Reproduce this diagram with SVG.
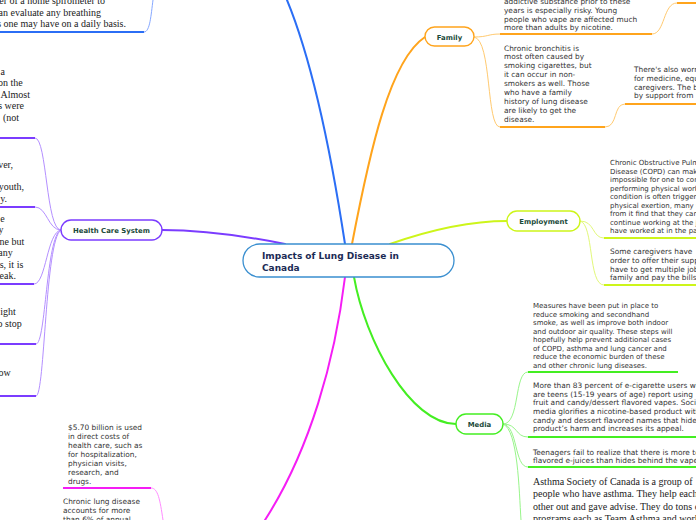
<svg xmlns="http://www.w3.org/2000/svg" width="696" height="520" viewBox="0 0 696 520">
<style>
.s{font-family:"DejaVu Sans",Verdana,sans-serif;font-size:7.4px;fill:#333}
.s7{font-size:7px}
.r{font-family:"Liberation Serif","Times New Roman",serif;font-size:10px;fill:#222}
.re{text-anchor:end}
.lbl{font-family:"DejaVu Sans",Verdana,sans-serif;font-size:6.9px;font-weight:bold;fill:#1a4a3a;text-anchor:middle}
.main{fill:none;stroke-width:2;stroke-linecap:round}
.thin{fill:none;stroke-width:1}
.ul{fill:none;stroke-width:2}
.box{fill:#fff;stroke-width:1.4}
.blue{stroke:#2b6ef5}.lblue{stroke:#86a8ff}
.or{stroke:#ffa41c}.lor{stroke:#ffca70}
.yl{stroke:#cdf51a}.lyl{stroke:#e2f87a}
.gr{stroke:#44ee22}.lgr{stroke:#98f58a}
.pk{stroke:#f51df5}.lpk{stroke:#ff8cff}
.pu{stroke:#7b3cff}.lpu{stroke:#b48fff}
</style>
<g id="connectors">
<path class="main blue" d="M345,244 Q320,80 287,0"/>
<path class="main or" d="M352,244 C370,150 390,60 425,37"/>
<path class="main yl" d="M390,244 C430,230 470,221 507,221"/>
<path class="main gr" d="M354,277 C365,340 410,424 456,424"/>
<path class="main pk" d="M345,277 C335,360 310,450 265,520"/>
<path class="main pu" d="M285,244 C230,233 195,230 162,230"/>
<path class="thin lblue" d="M144,32 C150,32 151,15 153,0"/>
<path class="ul blue" d="M0,32 L144,32"/>
<path class="thin lor" d="M474,37 C488,37 488,34 500,34"/>
<path class="ul or" d="M500,34 L652,34"/>
<path class="thin lor" d="M652,34 C665,34 663,3 677,3"/>
<path class="ul or" d="M677,3 L696,3"/>
<path class="thin lor" d="M474,37 C492,40 486,127 500,127"/>
<path class="ul or" d="M500,127 L605,127"/>
<path class="thin lor" d="M605,127 C618,127 613,104 625,104"/>
<path class="ul or" d="M625,104 L696,104"/>
<path class="thin lyl" d="M580,221 C595,221 592,238 604,238"/>
<path class="ul yl" d="M604,238 L696,238"/>
<path class="thin lyl" d="M580,221 C594,224 588,285 604,285"/>
<path class="ul yl" d="M604,285 L696,285"/>
<path class="thin lgr" d="M503,424 C520,424 514,372 528,372"/>
<path class="ul gr" d="M528,372 L678,372"/>
<path class="thin lgr" d="M503,424 C518,424 515,437 528,437"/>
<path class="ul gr" d="M528,437 L696,437"/>
<path class="thin lgr" d="M503,424 C518,426 514,467 528,467"/>
<path class="ul gr" d="M528,467 L696,467"/>
<path class="thin lgr" d="M503,424 C518,430 519,490 521,520"/>
<path class="thin lpu" d="M61,230 C46,230 47,138 35,138"/>
<path class="ul pu" d="M0,138 L35,138"/>
<path class="thin lpu" d="M61,230 C48,230 47,207 35,207"/>
<path class="ul pu" d="M0,207 L35,207"/>
<path class="thin lpu" d="M61,230 C47,232 46,284 34,284"/>
<path class="ul pu" d="M0,284 L34,284"/>
<path class="thin lpu" d="M61,230 C46,236 46,344 36,344"/>
<path class="ul pu" d="M0,344 L36,344"/>
<path class="thin lpu" d="M61,230 C45,240 45,396 36,396"/>
<path class="ul pu" d="M0,396 L36,396"/>
<path class="ul pk" d="M63,488 L151,488"/>
<path class="thin lpk" d="M151,488 C158,488 160,500 163,520"/>
</g>
<g id="center">
<rect x="243" y="244" width="211" height="33" rx="16.5" fill="#fff" stroke="#3a8fd0" stroke-width="1.3"/>
<text x="262" y="259" font-family="DejaVu Sans,Verdana,sans-serif" font-size="9" font-weight="bold" fill="#1c2b55">Impacts of Lung Disease in<tspan x="262" y="270.5">Canada</tspan></text>
</g>
<g id="node-family">
<rect class="box or" x="425" y="27" width="49" height="19" rx="9.5"/>
<text class="lbl" x="449.5" y="39.5">Family</text>
</g>
<g id="node-employment">
<rect class="box yl" x="507" y="211" width="73" height="20" rx="10"/>
<text class="lbl" x="543.5" y="223.5">Employment</text>
</g>
<g id="node-media">
<rect class="box gr" x="456" y="414" width="47" height="20" rx="10"/>
<text class="lbl" x="479.5" y="426.5">Media</text>
</g>
<g id="node-hcs">
<rect class="box pu" x="61" y="220" width="101" height="20" rx="10"/>
<text class="lbl" x="111.5" y="232.5">Health Care System</text>
</g>
<g id="t-blue1">
<text class="r re"><tspan x="105" y="4">er of a home spirometer to</tspan><tspan x="101" y="15.5">can evaluate any breathing</tspan><tspan x="126" y="27">s one may have on a daily basis.</tspan></text>
</g>
<g id="t-fam1">
<text class="s"><tspan x="504" y="4.3">addictive substance prior to these</tspan><tspan x="504" dy="8.7">years is especially risky. Young</tspan><tspan x="504" dy="8.7">people who vape are affected much</tspan><tspan x="504" dy="8.7">more than adults by nicotine.</tspan></text>
</g>
<g id="t-fam2">
<text class="s"><tspan x="504" y="50.5">Chronic bronchitis is</tspan><tspan x="504" dy="8.9">most often caused by</tspan><tspan x="504" dy="8.9">smoking cigarettes, but</tspan><tspan x="504" dy="8.9">it can occur in non-</tspan><tspan x="504" dy="8.9">smokers as well. Those</tspan><tspan x="504" dy="8.9">who have a family</tspan><tspan x="504" dy="8.9">history of lung disease</tspan><tspan x="504" dy="8.9">are likely to get the</tspan><tspan x="504" dy="8.9">disease.</tspan></text>
</g>
<g id="t-fam3">
<text class="s"><tspan x="634" y="72.2">There's also worry</tspan><tspan x="634" dy="8.7">for medicine, equipment</tspan><tspan x="634" dy="8.7">caregivers. The burden</tspan><tspan x="634" dy="8.7">by support from</tspan></text>
</g>
<g id="t-emp1">
<text class="s s7"><tspan x="610" y="165.2">Chronic Obstructive Pulmonary</tspan><tspan x="610" dy="8.5">Disease (COPD) can make it</tspan><tspan x="610" dy="8.5">impossible for one to continue</tspan><tspan x="610" dy="8.5">performing physical work. As the</tspan><tspan x="610" dy="8.5">condition is often triggered by</tspan><tspan x="610" dy="8.5">physical exertion, many who</tspan><tspan x="610" dy="8.5">from it find that they cannot</tspan><tspan x="610" dy="8.5">continue working at the jobs they</tspan><tspan x="610" dy="8.5">have worked at in the past.</tspan></text>
</g>
<g id="t-emp2">
<text class="s"><tspan x="610" y="254.2">Some caregivers have</tspan><tspan x="610" dy="8.7">order to offer their support</tspan><tspan x="610" dy="8.7">have to get multiple jobs</tspan><tspan x="610" dy="8.7">family and pay the bills.</tspan></text>
</g>
<g id="t-med1">
<text class="s s7"><tspan x="533" y="308.2">Measures have been put in place to</tspan><tspan x="533" dy="8.5">reduce smoking and secondhand</tspan><tspan x="533" dy="8.5">smoke, as well as improve both indoor</tspan><tspan x="533" dy="8.5">and outdoor air quality. These steps will</tspan><tspan x="533" dy="8.5">hopefully help prevent additional cases</tspan><tspan x="533" dy="8.5">of COPD, asthma and lung cancer and</tspan><tspan x="533" dy="8.5">reduce the economic burden of these</tspan><tspan x="533" dy="8.5">and other chronic lung diseases.</tspan></text>
</g>
<g id="t-med2">
<text class="s"><tspan x="533" y="387.8">More than 83 percent of e-cigarette users who</tspan><tspan x="533" dy="8.7">are teens (15-19 years of age) report using</tspan><tspan x="533" dy="8.7">fruit and candy/dessert flavored vapes. Social</tspan><tspan x="533" dy="8.7">media glorifies a nicotine-based product with</tspan><tspan x="533" dy="8.7">candy and dessert flavored names that hide the</tspan><tspan x="533" dy="8.7">product’s harm and increases its appeal.</tspan></text>
</g>
<g id="t-med3">
<text class="s"><tspan x="533" y="454.5">Teenagers fail to realize that there is more to</tspan><tspan x="533" dy="8.7">flavored e-juices than hides behind the vape.</tspan></text>
</g>
<g id="t-med4">
<text class="r"><tspan x="533" y="485">Asthma Society of Canada is a group of</tspan><tspan x="533" dy="12.3">people who have asthma. They help each</tspan><tspan x="533" dy="12.3">other out and gave advise. They do tons of</tspan><tspan x="533" dy="12.3">programs each as Team Asthma,and work</tspan></text>
</g>
<g id="t-hcs1">
<text class="r re"><tspan x="5" y="74.7">a</tspan><tspan x="22.7" y="86.3">on the</tspan><tspan x="30" y="97.7">Almost</tspan><tspan x="24" y="109.4">s were</tspan><tspan x="19" y="120.5">(not</tspan></text>
</g>
<g id="t-hcs2">
<text class="r re"><tspan x="13" y="168">ver,</tspan><tspan x="24" y="190">youth,</tspan><tspan x="7" y="202">y.</tspan></text>
</g>
<g id="t-hcs3">
<text class="r re"><tspan x="4.7" y="221.5">e</tspan><tspan x="3.5" y="233">y</tspan><tspan x="24.3" y="244.5">ne but</tspan><tspan x="12.7" y="256">any</tspan><tspan x="23.3" y="267.5">s, it is</tspan><tspan x="16" y="279">eak.</tspan></text>
</g>
<g id="t-hcs4">
<text class="r re"><tspan x="15.7" y="315">ight</tspan><tspan x="21.7" y="326.5">o stop</tspan></text>
</g>
<g id="t-hcs5">
<text class="r re"><tspan x="10.7" y="376">ow</tspan></text>
</g>
<g id="t-pk1">
<text class="s"><tspan x="68" y="430.2">$5.70 billion is used</tspan><tspan x="68" dy="8.9">in direct costs of</tspan><tspan x="68" dy="8.9">health care, such as</tspan><tspan x="68" dy="8.9">for hospitalization,</tspan><tspan x="68" dy="8.9">physician visits,</tspan><tspan x="68" dy="8.9">research, and</tspan><tspan x="68" dy="8.9">drugs.</tspan></text>
</g>
<g id="t-pk2">
<text class="s"><tspan x="63" y="503.8">Chronic lung disease</tspan><tspan x="63" dy="8.9">accounts for more</tspan><tspan x="63" dy="8.9">than 6% of annual</tspan></text>
</g>
</svg>
